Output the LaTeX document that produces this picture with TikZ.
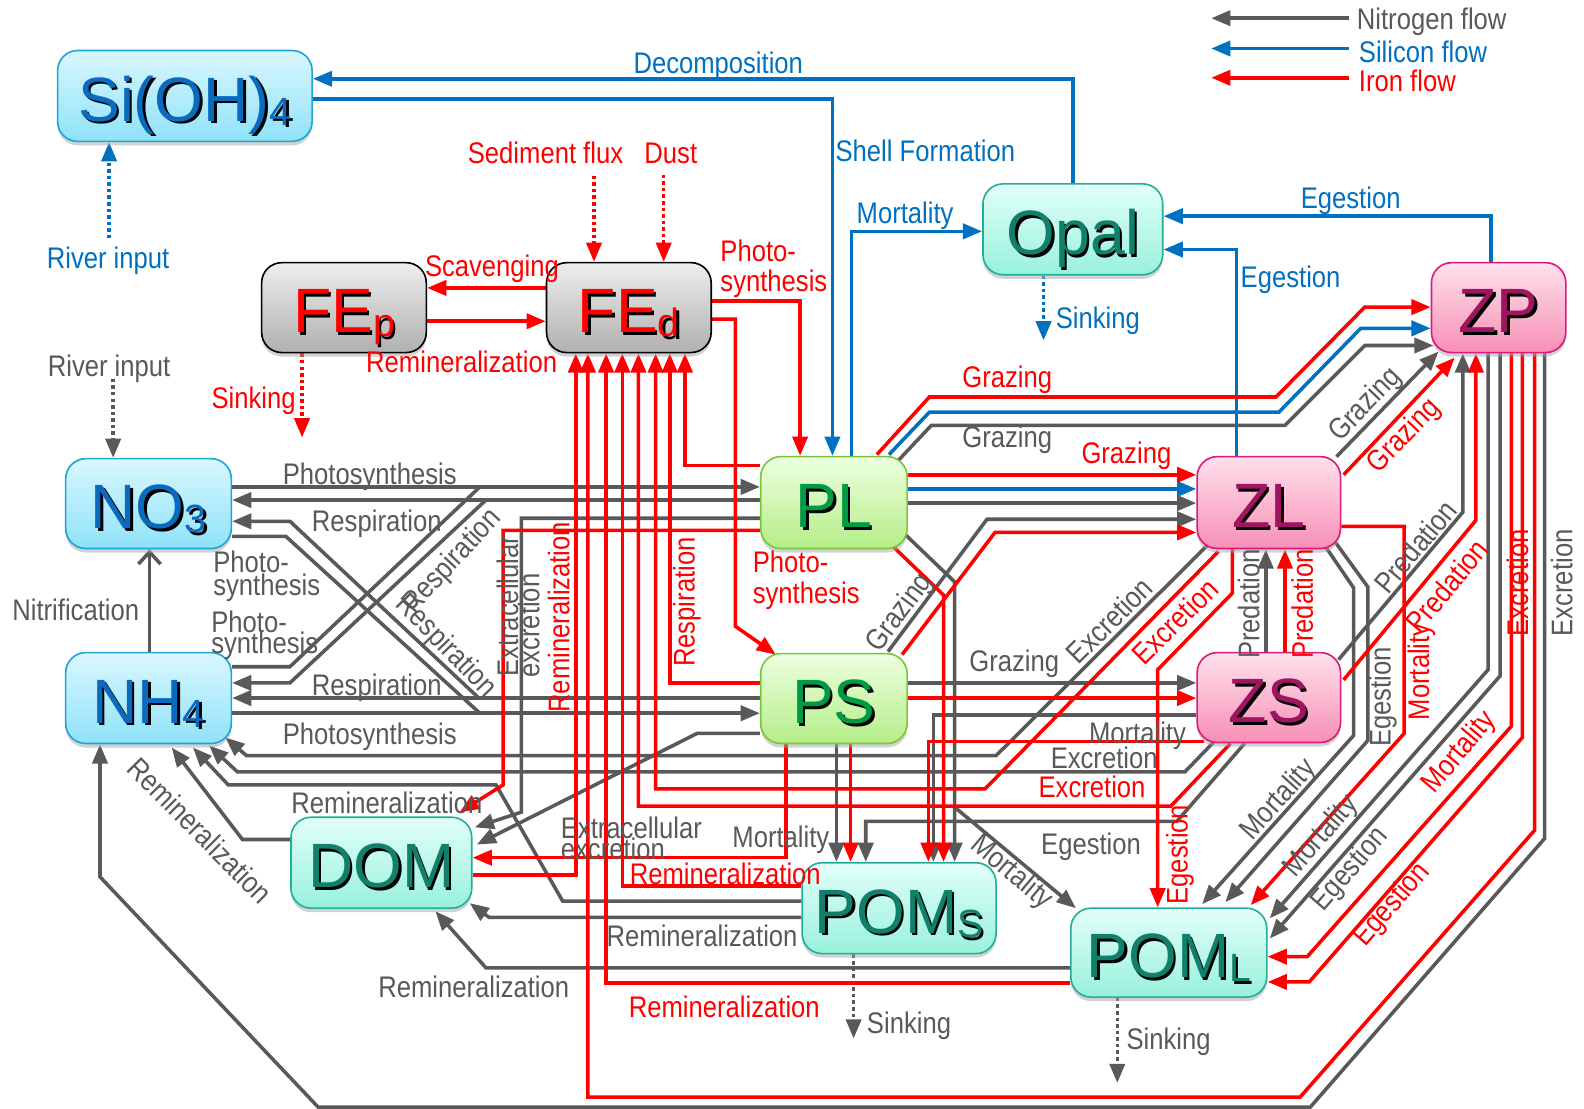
\documentclass[tikz,border=0pt]{standalone}
\usepackage{fontspec}
\setmainfont{Liberation Sans}
\newfontfamily\lf{Liberation Sans}[FakeStretch=0.86]
\usetikzlibrary{arrows.meta,shadows}
\pgfdeclarelayer{bg}
\pgfsetlayers{bg,main}
\definecolor{gc}{HTML}{595959}
\definecolor{bc}{HTML}{0070C0}
\definecolor{rc}{HTML}{FF0000}
\definecolor{nbT}{HTML}{DAF7FF}\definecolor{nbB}{HTML}{8FE2F8}\definecolor{nbD}{HTML}{1EA5D8}\definecolor{nbX}{HTML}{0A6BBE}
\definecolor{feT}{HTML}{EEEEEE}\definecolor{feB}{HTML}{B0B0B0}
\definecolor{tlT}{HTML}{E2FFF9}\definecolor{tlB}{HTML}{98F1DC}\definecolor{tlD}{HTML}{22AE98}\definecolor{tlX}{HTML}{127F6B}
\definecolor{grT}{HTML}{EDFFDF}\definecolor{grB}{HTML}{B4EE88}\definecolor{grD}{HTML}{7CC63E}\definecolor{grX}{HTML}{009A44}
\definecolor{pkT}{HTML}{FFE1EC}\definecolor{pkB}{HTML}{F78FB6}\definecolor{pkD}{HTML}{DC1A7C}\definecolor{pkX}{HTML}{9E1560}
\newcommand\shd[2]{\leavevmode\rlap{\kern2.5pt\raisebox{-2.5pt}{\textcolor{black}{#2}}}\textcolor{#1}{#2}}
\newcommand\sbs[1]{\raisebox{-4pt}{\fontsize{39}{39}\selectfont #1}}
\tikzset{
 nbox/.style={rounded corners=20pt, line width=1.6pt, inner sep=0pt, text height=50pt, text depth=0pt,
   font=\fontsize{62}{62}\selectfont, drop shadow={shadow xshift=0pt,shadow yshift=-4pt,fill=black!35}},
 bluebox/.style={nbox,draw=nbD,top color=nbT,bottom color=nbB},
 febox/.style={nbox,draw=black,top color=feT,bottom color=feB},
 tealbox/.style={nbox,draw=tlD,top color=tlT,bottom color=tlB},
 greenbox/.style={nbox,draw=grD,top color=grT,bottom color=grB},
 pinkbox/.style={nbox,draw=pkD,top color=pkT,bottom color=pkB},
 gl/.style={draw=gc,line width=3.5pt},
 rl/.style={draw=rc,line width=3.5pt},
 bl/.style={draw=bc,line width=3.5pt},
 ah/.style={-{Triangle[length=19pt,width=15pt]}},
 dotl/.style={dash pattern=on 3.5pt off 3pt},
 lab/.style={font=\lf\fontsize{29.5}{29.5}\selectfont, inner sep=0pt, anchor=base},
 glab/.style={lab,text=gc}, rlab/.style={lab,text=rc}, blab/.style={lab,text=bc},
}
\begin{document}
\begin{tikzpicture}[x=1pt,y=-1pt]
\useasboundingbox (0,0) rectangle (1568,1097);
% ---------------- nodes
\node[bluebox,minimum width=252pt,minimum height=90pt] (si) at (183,95) {\shd{nbX}{Si(OH)\sbs{4}}};
\node[febox,minimum width=163pt,minimum height=89pt] (fep) at (340.5,304.5) {\shd{rc}{FE\sbs{p}}};
\node[febox,minimum width=163pt,minimum height=89pt] (fed) at (622.5,304.5) {\shd{rc}{FE\sbs{d}}};
\node[tealbox,minimum width=178pt,minimum height=90pt] (opal) at (1062,227) {\shd{tlX}{Opal}};
\node[pinkbox,minimum width=133pt,minimum height=89pt] (zp) at (1483.5,304.5) {\shd{pkX}{ZP}};
\node[bluebox,minimum width=164pt,minimum height=89pt] (no3) at (147,498.5) {\shd{nbX}{NO\sbs{3}}};
\node[bluebox,minimum width=164pt,minimum height=90pt] (nh4) at (147,691) {\shd{nbX}{NH\sbs{4}}};
\node[greenbox,minimum width=145pt,minimum height=91pt] (pl) at (825.5,497.5) {\shd{grX}{PL}};
\node[greenbox,minimum width=145pt,minimum height=89pt] (ps) at (825.5,691.5) {\shd{grX}{PS}};
\node[pinkbox,minimum width=142pt,minimum height=91pt] (zl) at (1256,497.5) {\shd{pkX}{ZL}};
\node[pinkbox,minimum width=142pt,minimum height=89pt] (zs) at (1256,690.5) {\shd{pkX}{ZS}};
\node[tealbox,minimum width=179pt,minimum height=90pt] (dom) at (377.5,854) {\shd{tlX}{DOM}};
\node[tealbox,minimum width=192pt,minimum height=90pt] (poms) at (890,899) {\shd{tlX}{POM\sbs{S}}};
\node[tealbox,minimum width=194pt,minimum height=88pt] (poml) at (1157,943) {\shd{tlX}{POM\sbs{L}}};
% ---------------- connectors
\begin{pgfonlayer}{bg}
\fill[white] (0,0) rectangle (1568,1097);
% legend
\coordinate (lgA) at (1335,18); \coordinate (lgB) at (1199,18);
\coordinate (lgC) at (1335,48); \coordinate (lgD) at (1199,48);
\coordinate (lgE) at (1335,77); \coordinate (lgF) at (1199,77);
\draw[gl,ah] (lgA) -- (lgB);
\draw[bl,ah] (lgC) -- (lgD);
\draw[rl,ah] (lgE) -- (lgF);
% ---- gray (nitrogen)
\draw[gl,ah] (no3.east |- 0,482) -- (pl.west |- 0,482);
\draw[gl,ah] (pl.west |- 0,495) -- (no3.east |- 0,495);
\draw[gl] (nh4.east |- 0,660) -- (287,660) -- (475,482);
\draw[gl,ah] (481,495) -- (287,676) -- (nh4.east |- 0,676);
\draw[gl,ah] (474,691) -- (287,516) -- (no3.east |- 0,516);
\draw[gl] (no3.east |- 0,531) -- (283,531) -- (475,706);
\draw[gl,ah] (ps.west |- 0,691) -- (nh4.east |- 0,691);
\draw[gl,ah] (nh4.east |- 0,706) -- (ps.west |- 0,706);
\draw[gl,-{Straight Barb[length=12pt,width=22pt]}] (nh4.north -| 148,0) -- (no3.south -| 148,0);
\coordinate (rivg) at (112,375);
\draw[gl,dotl,ah] (rivg) -- (no3.north -| 112,0);
\draw[gl,ah] (pl.west |- 0,513) -- (516,513) -- (516,804) -- (470,819);
\draw[gl,ah] (ps.west |- 0,726) -- (690,726) -- (472,836);
\draw[gl,ah] (dom.west |- 0,831) -- (240,831) -- (170,740);
\draw[gl,ah] (poms.west |- 0,908) -- (484,908) -- (465,894);
\draw[gl,ah] (poml.west |- 0,958) -- (481,958) -- (431,902);
\draw[gl,ah] (poms.west |- 0,892) -- (557,892) -- (491,777) -- (226,777) -- (191,740);
\draw[gl,ah] (1195,540) -- (986,748) -- (244,748) -- (223,730);
\draw[gl,ah] (1201,735) -- (1173,764) -- (235,764) -- (207,738);
\draw[gl,ah] (zp.south -| 1529,0) -- (1529,830) -- (1297,1096) -- (315,1096) -- (99,868) -- (nh4.south -| 99,0);
\draw[gl,ah] (pl.east |- 0,498) -- (zl.west |- 0,498);
\draw[gl,ah] (889,456) -- (922,421) -- (1272,421) -- (1351,342) -- (1419,342);
\draw[gl,ah] (879,645) -- (977,514) -- (zl.west |- 0,514);
\draw[gl,ah] (ps.east |- 0,676) -- (zs.west |- 0,676);
\draw[gl,ah] (897,530) -- (945,576) -- (poms.north -| 945,0);
\draw[gl,ah] (945,799) -- (1065,899);
\draw[gl,ah] (ps.south -| 828,0) -- (poms.north -| 828,0);
\draw[gl,ah] (1232,736) -- (1165,813) -- (857,813) -- (poms.north -| 857,0);
\draw[gl,ah] (zs.west |- 0,708) -- (924,708) -- (poms.north -| 924,0);
\draw[gl,ah] (zs.north -| 1253,0) -- (zl.south -| 1253,0);
\draw[gl,ah] (1325,653) -- (1448,507) -- (zp.south -| 1448,0);
\draw[gl,ah] (1323,452) -- (1424,348);
\draw[gl,ah] (1312,541) -- (1340,582) -- (1340,728) -- (1190,895);
\draw[gl,ah] (1322,537) -- (1354,581) -- (1354,733) -- (1213,893);
\draw[gl,ah] (zp.south -| 1473,0) -- (1473,663) -- (1257,909);
\draw[gl,ah] (zp.south -| 1485,0) -- (1485,669) -- (1257,929);
\coordinate (snkS) at (845,1028); \coordinate (snkL) at (1106,1072);
\draw[gl,dotl,ah] (poms.south -| 845,0) -- (snkS);
\draw[gl,dotl,ah] (poml.south -| 1106,0) -- (snkL);
% ---- blue (silicon)
\draw[bl,ah] (opal.north -| 1062,0) |- (si.east |- 0,78);
\draw[bl,ah] (si.east |- 0,98) -| (pl.north -| 824,0);
\draw[bl,ah] (pl.north -| 843,0) |- (opal.west |- 0,229);
\draw[bl,ah] (zp.north -| 1476,0) |- (opal.east |- 0,214);
\draw[bl,ah] (zl.north -| 1224,0) |- (opal.east |- 0,247);
\coordinate (snkO) at (1033,337); \coordinate (rivb) at (108,236);
\draw[bl,dotl,ah] (opal.south -| 1033,0) -- (snkO);
\draw[bl,dotl,ah] (rivb) -- (si.south -| 108,0);
\draw[bl,ah] (pl.east |- 0,484) -- (zl.west |- 0,484);
\draw[bl,ah] (880,450) -- (920,408) -- (1266,408) -- (1347,325) -- (zp.west |- 0,325);
% ---- red (iron)
\draw[rl,ah] (fed.east |- 0,298) -| (pl.north -| 792,0);
\draw[rl,ah] (fed.east |- 0,316) -- (728,316) -- (728,620) -- (768,648);
\draw[rl,ah] (fed.west |- 0,285) -- (fep.east |- 0,285);
\draw[rl,ah] (fep.east |- 0,318) -- (fed.west |- 0,318);
\coordinate (sed) at (588,174); \coordinate (dust) at (657,173); \coordinate (snkP) at (299,433);
\draw[rl,dotl,ah] (sed) -- (fed.north -| 588,0);
\draw[rl,dotl,ah] (dust) -- (fed.north -| 657,0);
\draw[rl,dotl,ah] (fep.south -| 299,0) -- (snkP);
\draw[rl,ah] (dom.east |- 0,866) -| (fed.south -| 570,0);
\draw[rl,ah] (zp.south -| 1519,0) -- (1519,822) -- (1287,1086) -| (fed.south -| 582,0);
\draw[rl,ah] (poml.west |- 0,973) -| (fed.south -| 600,0);
\draw[rl,ah] (poms.west |- 0,877) -| (fed.south -| 616,0);
\draw[rl,ah] (1218,736) -- (1159,798) -| (fed.south -| 632,0);
\draw[rl,ah] (1206,546) -- (975,781) -| (fed.south -| 649,0);
\draw[rl,ah] (ps.west |- 0,676) -| (fed.south -| 663,0);
\draw[rl,ah] (pl.west |- 0,461) -| (fed.south -| 678,0);
\draw[rl,ah] (pl.west |- 0,525) -- (498,525) -- (498,777) -- (455,804);
\draw[rl,ah] (ps.south -| 778,0) |- (dom.east |- 0,849);
\draw[rl,ah] (pl.east |- 0,470) -- (zl.west |- 0,470);
\draw[rl,ah] (868,450) -- (920,393) -- (1263,393) -- (1351,304) -- (zp.west |- 0,304);
\draw[rl,ah] (893,648) -- (985,527) -- (zl.west |- 0,527);
\draw[rl,ah] (ps.east |- 0,691) -- (zs.west |- 0,691);
\draw[rl,ah] (884,541) -- (934,589) -- (poms.north -| 934,0);
\draw[rl,ah] (ps.south -| 842,0) -- (poms.north -| 842,0);
\draw[rl,ah] (1192,734) -- (919,734) -- (poms.north -| 919,0);
\draw[rl,ah] (1330,470) -- (1440,354);
\draw[rl,ah] (zs.north -| 1272,0) -- (zl.south -| 1272,0);
\draw[rl,ah] (1330,673) -- (1461,515) -- (zp.south -| 1461,0);
\draw[rl,ah] (zl.south -| 1220,0) -- (1220,587) -- (1146,663) -- (poml.north -| 1146,0);
\draw[rl,ah] (zl.east |- 0,521) -- (1390,521) -- (1390,726) -- (1238,896);
\draw[rl,ah] (zp.south -| 1496,0) -- (1496,719) -- (1294,947) -- (poml.east |- 0,947);
\draw[rl,ah] (zp.south -| 1507,0) -- (1507,730) -- (1296,972) -- (poml.east |- 0,972);
\end{pgfonlayer}
% ---------------- labels
% legend
\node[glab,anchor=base west] (t01) at (1343,29) {Nitrogen flow};
\node[blab,anchor=base west] (t02) at (1345,62) {Silicon flow};
\node[rlab,anchor=base west] (t03) at (1345,91) {Iron flow};
% blue
\node[blab] (t04) at (711,73) {Decomposition};
\node[blab,anchor=base west] (t05) at (827,160) {Shell Formation};
\node[blab] (t06) at (896,221) {Mortality};
\node[blab] (t07) at (1337,206) {Egestion};
\node[blab,anchor=base west] (t08) at (1228,285) {Egestion};
\node[blab,anchor=base west] (t09) at (1045,325) {Sinking};
\node[blab] (t10) at (107,266) {River input};
% red
\node[rlab] (t11) at (540,162) {Sediment flux};
\node[rlab] (t12) at (664,162) {Dust};
\node[rlab] (t13) at (487,274) {Scavenging};
\node[rlab] (t14) at (457,369) {Remineralization};
\node[rlab] (t15) at (251,404) {Sinking};
\node[rlab,anchor=base west] (t16) at (713,259) {Photo-};
\node[rlab,anchor=base west] (t17) at (713,289) {synthesis};
\node[rlab,anchor=center,rotate=90] (t18) at (553,611) {Remineralization};
\node[rlab,anchor=center,rotate=90] (t19) at (680,596) {Respiration};
\node[rlab,anchor=base west] (t20) at (745,567) {Photo-};
\node[rlab,anchor=base west] (t21) at (745,597) {synthesis};
\node[rlab] (t22) at (997,384) {Grazing};
\node[rlab] (t23) at (1115,459) {Grazing};
\node[rlab,anchor=center,rotate=46] (t24) at (1390,432) {Grazing};
\node[rlab,anchor=center,rotate=45] (t25) at (1163,615) {Excretion};
\node[rlab,anchor=center,rotate=90] (t26) at (1289,598) {Predation};
\node[rlab,anchor=center,rotate=90] (t27) at (1407,665) {Mortality};
\node[rlab,anchor=center,rotate=50] (t28) at (1432,580) {Predation};
\node[rlab,anchor=center,rotate=90] (t29) at (1502,577) {Excretion};
\node[rlab,anchor=center,rotate=50] (t30) at (1445,745) {Mortality};
\node[rlab,anchor=center,rotate=49] (t31) at (1378,896) {Egestion};
\node[rlab] (t32) at (1081,789) {Excretion};
\node[rlab,anchor=center,rotate=90] (t33) at (1168,846) {Egestion};
\node[rlab] (t34) at (718,876) {Remineralization};
\node[rlab] (t35) at (717,1007) {Remineralization};
% gray
\node[glab] (t36) at (108,373) {River input};
\node[glab] (t37) at (366,480) {Photosynthesis};
\node[glab] (t38) at (373,526) {Respiration};
\node[glab,anchor=base west] (t39) at (211,567) {Photo-};
\node[glab,anchor=base west] (t40) at (211,589) {synthesis};
\node[glab,anchor=base west] (t41) at (209,626) {Photo-};
\node[glab,anchor=base west] (t42) at (209,647) {synthesis};
\node[glab] (t43) at (75,614) {Nitrification};
\node[glab,anchor=center,rotate=47] (t44) at (448,556) {Respiration};
\node[glab,anchor=center,rotate=-46] (t45) at (441,640) {Respiration};
\node[glab] (t46) at (373,688) {Respiration};
\node[glab] (t47) at (366,737) {Photosynthesis};
\node[glab,anchor=base west,rotate=90] (t48) at (513,670) {Extracellular};
\node[glab,anchor=base west,rotate=90] (t49) at (534,671) {excretion};
\node[glab] (t50) at (383,805) {Remineralization};
\node[glab,anchor=center,rotate=-45] (t51) at (198,822) {Remineralization};
\node[glab,anchor=base west] (t52) at (555,830) {Extracellular};
\node[glab,anchor=base west] (t53) at (555,851) {excretion};
\node[glab] (t54) at (773,839) {Mortality};
\node[glab] (t55) at (695,937) {Remineralization};
\node[glab] (t56) at (469,987) {Remineralization};
\node[glab,anchor=base west] (t57) at (858,1023) {Sinking};
\node[glab,anchor=base west] (t58) at (1115,1039) {Sinking};
\node[glab] (t59) at (997,443) {Grazing};
\node[glab,anchor=center,rotate=53] (t60) at (891,607) {Grazing};
\node[glab] (t61) at (1004,665) {Grazing};
\node[glab,anchor=center,rotate=45] (t62) at (1098,614) {Excretion};
\node[glab] (t63) at (1126,736) {Mortality};
\node[glab] (t64) at (1093,761) {Excretion};
\node[glab] (t65) at (1080,846) {Egestion};
\node[glab,anchor=center,rotate=-40] (t66) at (1001,864) {Mortality};
\node[glab,anchor=center,rotate=46] (t67) at (1352,401) {Grazing};
\node[glab,anchor=center,rotate=90] (t68) at (1236,598) {Predation};
\node[glab,anchor=center,rotate=50] (t69) at (1401,541) {Predation};
\node[glab,anchor=center,rotate=90] (t70) at (1369,690) {Egestion};
\node[glab,anchor=center,rotate=48] (t71) at (1266,792) {Mortality};
\node[glab,anchor=center,rotate=49] (t72) at (1308,828) {Mortality};
\node[glab,anchor=center,rotate=49] (t73) at (1337,861) {Egestion};
\node[glab,anchor=center,rotate=90] (t74) at (1546,577) {Excretion};
\end{tikzpicture}
\end{document}
